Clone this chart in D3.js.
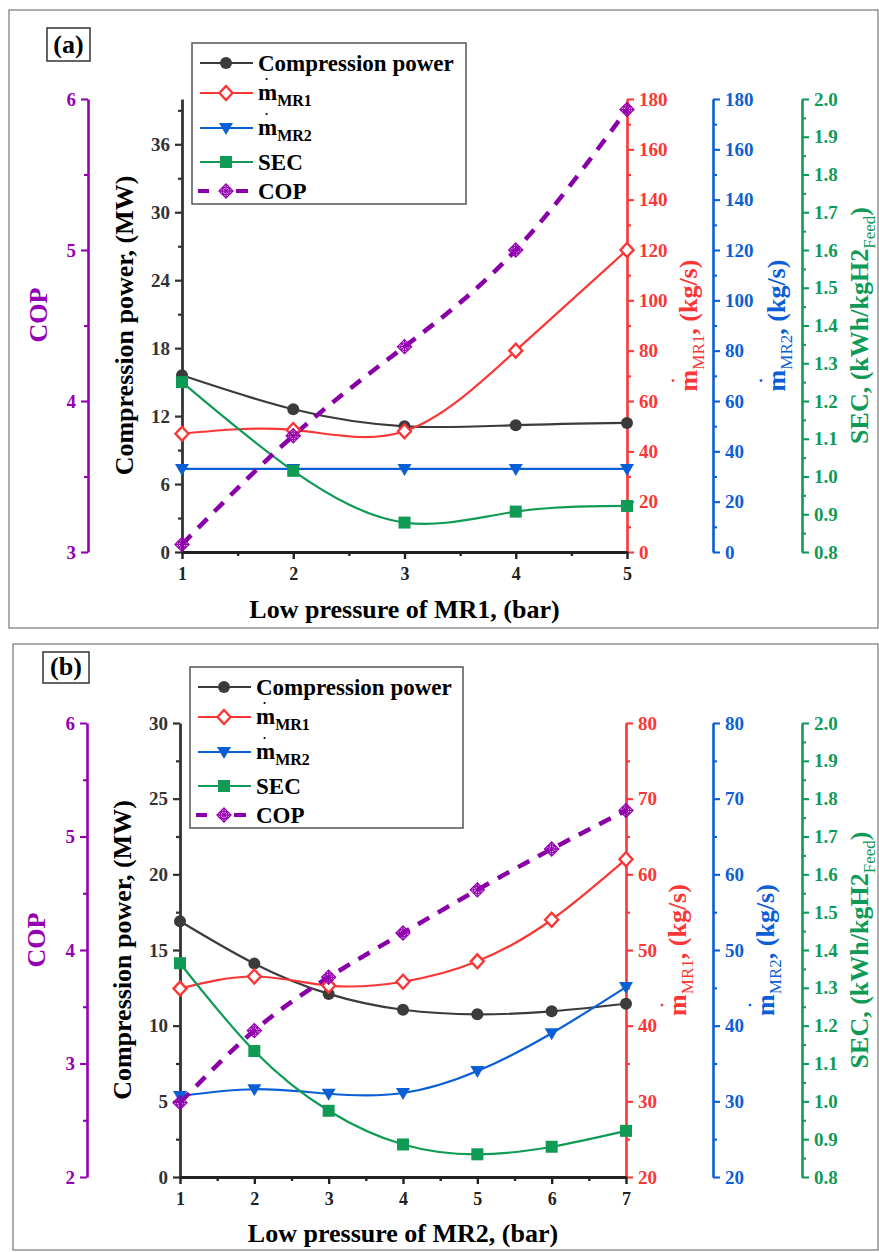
<!DOCTYPE html>
<html><head><meta charset="utf-8">
<script src="https://cdn.jsdelivr.net/npm/d3@7"></script>
<style>
body{margin:0;background:#fff}
svg{display:block}
text{font-family:"Liberation Serif","Times New Roman",serif;font-weight:bold}
</style>
</head><body>
<svg id="c" width="879" height="1252"></svg>
<script>
// ---------------- DATA ----------------
const pressureA = [1, 2, 3, 4, 5];
const powerA = [15.6, 12.6, 11.1, 11.2, 11.4];
const mMR1A = [47, 48.5, 48, 80, 120];
const mMR2A = [33, 33, 33, 33, 33];
const secA = [1.25, 1.015, 0.878, 0.907, 0.922];
const copA = [3.05, 3.77, 4.36, 5.0, 5.93];

const pressureB = [1, 2, 3, 4, 5, 6, 7];
const powerB = [16.9, 14.1, 12.1, 11.05, 10.75, 10.95, 11.45];
const mMR1B = [44.9, 46.5, 45.3, 45.8, 48.5, 54, 62];
const mMR2B = [30.7, 31.6, 31.0, 31.1, 34.0, 39.0, 45.1];
const secB = [1.365, 1.133, 0.975, 0.886, 0.86, 0.88, 0.922];
const copB = [2.655, 3.29, 3.76, 4.15, 4.53, 4.89, 5.23];

const xTicksA = [1, 2, 3, 4, 5];
const powerTicksA = [0, 6, 12, 18, 24, 30, 36];
const copTicksA = [3, 4, 5, 6];
const mTicksA = [0, 20, 40, 60, 80, 100, 120, 140, 160, 180];
const secTicks = [0.8, 0.9, 1.0, 1.1, 1.2, 1.3, 1.4, 1.5, 1.6, 1.7, 1.8, 1.9, 2.0];
const xTicksB = [1, 2, 3, 4, 5, 6, 7];
const powerTicksB = [0, 5, 10, 15, 20, 25, 30];
const copTicksB = [2, 3, 4, 5, 6];
const mTicksB = [20, 30, 40, 50, 60, 70, 80];

const legendLabels = ["Compression power", "m|MR1", "m|MR2", "SEC", "COP"];

// ---------------- STYLE ----------------
const C = {black: "#3b3b3b", red: "#fb3636", blue: "#0b5fd6", green: "#0f9a55", purple: "#9500b3", purpleLine: "#8a00a8", axis: "#333"};

const svg = d3.select("#c");

function minorVals(dom, step, majors) {
  const out = [];
  for (let v = dom[0]; v <= dom[1] + 1e-9; v += step) {
    const r = Math.round(v * 1000) / 1000;
    if (!majors.some(m => Math.abs(m - r) < 1e-6)) out.push(r);
  }
  return out;
}

function styleAxis(g, color, width, fs) {
  g.attr("font-family", null).attr("font-size", null);
  g.select(".domain").attr("stroke", color).attr("stroke-width", width);
  g.selectAll("line").attr("stroke", color).attr("stroke-width", width * 0.8);
  g.selectAll("text").attr("fill", color).style("font-size", fs + "px").style("font-weight", "bold");
}

function drawAxis(axisFn, scale, pos, majors, minorStep, color, width, fmt, horizontal) {
  const g = svg.append("g").attr("transform", horizontal ? `translate(0,${pos})` : `translate(${pos},0)`);
  g.call(axisFn(scale).tickValues(majors).tickSize(7).tickSizeOuter(0).tickPadding(5).tickFormat(fmt));
  styleAxis(g, color, width, 19);
  const mg = svg.append("g").attr("transform", horizontal ? `translate(0,${pos})` : `translate(${pos},0)`);
  mg.call(axisFn(scale).tickValues(minorVals(scale.domain(), minorStep, majors)).tickSize(4).tickSizeOuter(0).tickFormat(""));
  mg.select(".domain").remove();
  mg.selectAll("line").attr("stroke", color).attr("stroke-width", width * 0.8);
  return g;
}

function copMarker(g, x, y, r) {
  const m = g.append("g").attr("transform", `translate(${x},${y})`).attr("stroke", C.purple).attr("fill", "none").attr("stroke-width", 1.3);
  m.append("path").attr("d", `M0,${-r}L${r},0L0,${r}L${-r},0Z`);
  m.append("path").attr("d", `M${-r*0.5},${-r*0.5}L${r*0.5},${r*0.5}M${-r*0.5},${r*0.5}L${r*0.5},${-r*0.5}`);
  m.append("path").attr("d", `M${-r},0L${r},0M0,${-r}L0,${r}`);
  m.append("circle").attr("r", r * 0.55);
}

function marker(g, type, x, y) {
  if (type === 0) g.append("circle").attr("cx", x).attr("cy", y).attr("r", 6).attr("fill", C.black);
  else if (type === 1) g.append("path").attr("d", "M0,-7L6.5,0L0,7L-6.5,0Z").attr("transform", `translate(${x},${y})`).attr("fill", "#fff").attr("stroke", C.red).attr("stroke-width", 2.4);
  else if (type === 2) g.append("path").attr("d", "M-7,-5L7,-5L0,7Z").attr("transform", `translate(${x},${y})`).attr("fill", C.blue);
  else if (type === 3) g.append("rect").attr("x", x - 6).attr("y", y - 6).attr("width", 12).attr("height", 12).attr("fill", C.green);
  else copMarker(g, x, y, 7);
}

// vertical (rotated) title with optional m-dot and subscripts
function vTitle(x, y, parts, color, dot) {
  const g = svg.append("g").attr("transform", `translate(${x},${y}) rotate(-90)`);
  const t = g.append("text").attr("text-anchor", "middle").attr("fill", color).style("font-size", "26px");
  parts.forEach(p => {
    const ts = t.append("tspan").text(p.t);
    if (p.sub) ts.style("font-size", "17px").style("font-weight", "normal").attr("dy", 7);
    if (p.back) ts.attr("dy", -7);
  });
  if (dot) {
    const e = t.node().getExtentOfChar(0);
    g.append("circle").attr("cx", e.x + e.width / 2).attr("cy", -24).attr("r", 1.4).attr("fill", color);
  }
}

function legend(x0, y0, w, h) {
  const g = svg.append("g");
  g.append("rect").attr("x", x0).attr("y", y0).attr("width", w).attr("height", h).attr("fill", "#fff").attr("stroke", "#555").attr("stroke-width", 1.5);
  const rows = [20, 50, 85, 119, 148];
  const cols = [C.black, C.red, C.blue, C.green, C.purpleLine];
  legendLabels.forEach((lab, i) => {
    const y = y0 + rows[i];
    if (i < 4) {
      g.append("line").attr("x1", x0 + 8).attr("x2", x0 + 61).attr("y1", y).attr("y2", y).attr("stroke", cols[i]).attr("stroke-width", 2);
    } else {
      g.append("line").attr("x1", x0 + 6).attr("x2", x0 + 17).attr("y1", y).attr("y2", y).attr("stroke", cols[i]).attr("stroke-width", 4);
      g.append("line").attr("x1", x0 + 44).attr("x2", x0 + 56).attr("y1", y).attr("y2", y).attr("stroke", cols[i]).attr("stroke-width", 4);
    }
    marker(g, i, x0 + 34, y);
    const parts = lab.split("|");
    const t = g.append("text").attr("x", x0 + 66).attr("y", y + (parts.length > 1 ? 7 : 8)).attr("fill", "#000").style("font-size", "23px");
    t.append("tspan").text(parts[0]);
    if (parts.length > 1) {
      t.append("tspan").text(parts[1]).style("font-size", "16px").attr("dy", 6);
      const e = t.node().getExtentOfChar(0);
      g.append("circle").attr("cx", e.x + e.width / 2 - 1).attr("cy", y - 14).attr("r", 1.1).attr("fill", "#000");
    }
  });
}

function panel(o) {
  // frame
  svg.append("rect").attr("x", o.frame[0]).attr("y", o.frame[1]).attr("width", o.frame[2]).attr("height", o.frame[3]).attr("fill", "none").attr("stroke", "#777").attr("stroke-width", 1.2);
  svg.append("rect").attr("x", o.lab[0]).attr("y", o.lab[1]).attr("width", o.lab[2]).attr("height", o.lab[3]).attr("fill", "none").attr("stroke", "#333").attr("stroke-width", 1.5);
  svg.append("text").attr("x", o.lab[0] + o.lab[2] / 2).attr("y", o.lab[1] + o.lab[3] - 8).attr("text-anchor", "middle").style("font-size", "26px").text(o.label);

  const [L, R, T, B] = o.plot;
  const x = d3.scaleLinear().domain(o.xDom).range([L, R]);
  const yP = d3.scaleLinear().domain(o.pDom).range([B, T]);
  const yC = d3.scaleLinear().domain(o.cDom).range([B, T]);
  const y1 = d3.scaleLinear().domain(o.mDom).range([B, T]);
  const y2 = d3.scaleLinear().domain(o.mDom).range([B, T]);
  const yS = d3.scaleLinear().domain([0.8, 2.0]).range([B, T]);

  const f0 = d3.format("d"), f1 = d3.format(".1f");
  drawAxis(d3.axisLeft, yC, o.copX, o.cTicks, 0.5, C.purple, 2.6, f0, false);
  drawAxis(d3.axisLeft, yP, L, o.pTicks, o.pMinor, C.axis, 2.8, f0, false);
  drawAxis(d3.axisRight, y1, R, o.mTicks, o.mMinor, C.red, 2.6, f0, false);
  drawAxis(d3.axisRight, y2, 713, o.mTicks, o.mMinor, C.blue, 2.6, f0, false);
  drawAxis(d3.axisRight, yS, 802, secTicks, 0.05, C.green, 2.6, f1, false);
  const xa = drawAxis(d3.axisBottom, x, B, o.xTicks, 0.5, "#222", 3, f0, true);
  xa.selectAll("text").attr("dy", "0.9em").style("font-size", "18px");

  // titles
  vTitle(o.copTitle[0], o.copTitle[1], [{t: "COP"}], C.purple, false);
  vTitle(o.pTitleX, (T + B) / 2, [{t: "Compression power, (MW)"}], "#000", false);
  vTitle(o.rTitleX, (T + B) / 2, [{t: "m"}, {t: "MR1", sub: true}, {t: ", (kg/s)", back: true}], C.red, true);
  vTitle(o.bTitleX, (T + B) / 2, [{t: "m"}, {t: "MR2", sub: true}, {t: ", (kg/s)", back: true}], C.blue, true);
  vTitle(868, (T + B) / 2, [{t: "SEC, (kWh/kgH2"}, {t: "Feed", sub: true}, {t: ")", back: true}], C.green, false);
  svg.append("text").attr("x", (L + R) / 2).attr("y", o.xTitleY).attr("text-anchor", "middle").style("font-size", "26px").attr("fill", "#000").text(o.xTitle);

  // series
  const xs = o.xData;
  const series = [
    {v: o.power, s: yP, c: C.black, t: 0},
    {v: o.m1, s: y1, c: C.red, t: 1},
    {v: o.m2, s: y2, c: C.blue, t: 2},
    {v: o.sec, s: yS, c: C.green, t: 3}
  ];
  const g = svg.append("g");
  series.forEach(se => {
    const line = d3.line().x((d, i) => x(xs[i])).y(d => se.s(d)).curve(d3.curveNatural);
    g.append("path").attr("d", line(se.v)).attr("fill", "none").attr("stroke", se.c).attr("stroke-width", 2.2);
  });
  const copLine = d3.line().x((d, i) => x(xs[i])).y(d => yC(d)).curve(d3.curveNatural);
  g.append("path").attr("d", copLine(o.cop)).attr("fill", "none").attr("stroke", C.purpleLine).attr("stroke-width", 4.5).attr("stroke-dasharray", "13,10");
  series.forEach(se => se.v.forEach((d, i) => marker(g, se.t, x(xs[i]), se.s(d))));
  o.cop.forEach((d, i) => marker(g, 4, x(xs[i]), yC(d)));

  legend(o.leg[0], o.leg[1], o.leg[2], o.leg[3]);
}

panel({
  frame: [9, 10, 869, 618], lab: [47, 28, 43, 33], label: "(a)",
  plot: [182, 627, 99, 552], xDom: [1, 5], pDom: [0, 40], cDom: [3, 6], mDom: [0, 180],
  xTicks: xTicksA, pTicks: powerTicksA, pMinor: 3, cTicks: copTicksA, mTicks: mTicksA, mMinor: 10,
  copX: 88, copTitle: [47, 315], pTitleX: 133, rTitleX: 697, bTitleX: 785, xTitleY: 618,
  xTitle: "Low pressure of MR1, (bar)",
  xData: pressureA, power: powerA, m1: mMR1A, m2: mMR2A, sec: secA, cop: copA,
  leg: [192, 43, 274, 161]
});

panel({
  frame: [13, 644, 865, 606], lab: [43, 652, 46, 31], label: "(b)",
  plot: [180, 626, 723, 1177], xDom: [1, 7], pDom: [0, 30], cDom: [2, 6], mDom: [20, 80],
  xTicks: xTicksB, pTicks: powerTicksB, pMinor: 2.5, cTicks: copTicksB, mTicks: mTicksB, mMinor: 5,
  copX: 87, copTitle: [45, 940], pTitleX: 131, rTitleX: 686, bTitleX: 774, xTitleY: 1242,
  xTitle: "Low pressure of MR2, (bar)",
  xData: pressureB, power: powerB, m1: mMR1B, m2: mMR2B, sec: secB, cop: copB,
  leg: [190, 667, 273, 161]
});
</script>
</body></html>
